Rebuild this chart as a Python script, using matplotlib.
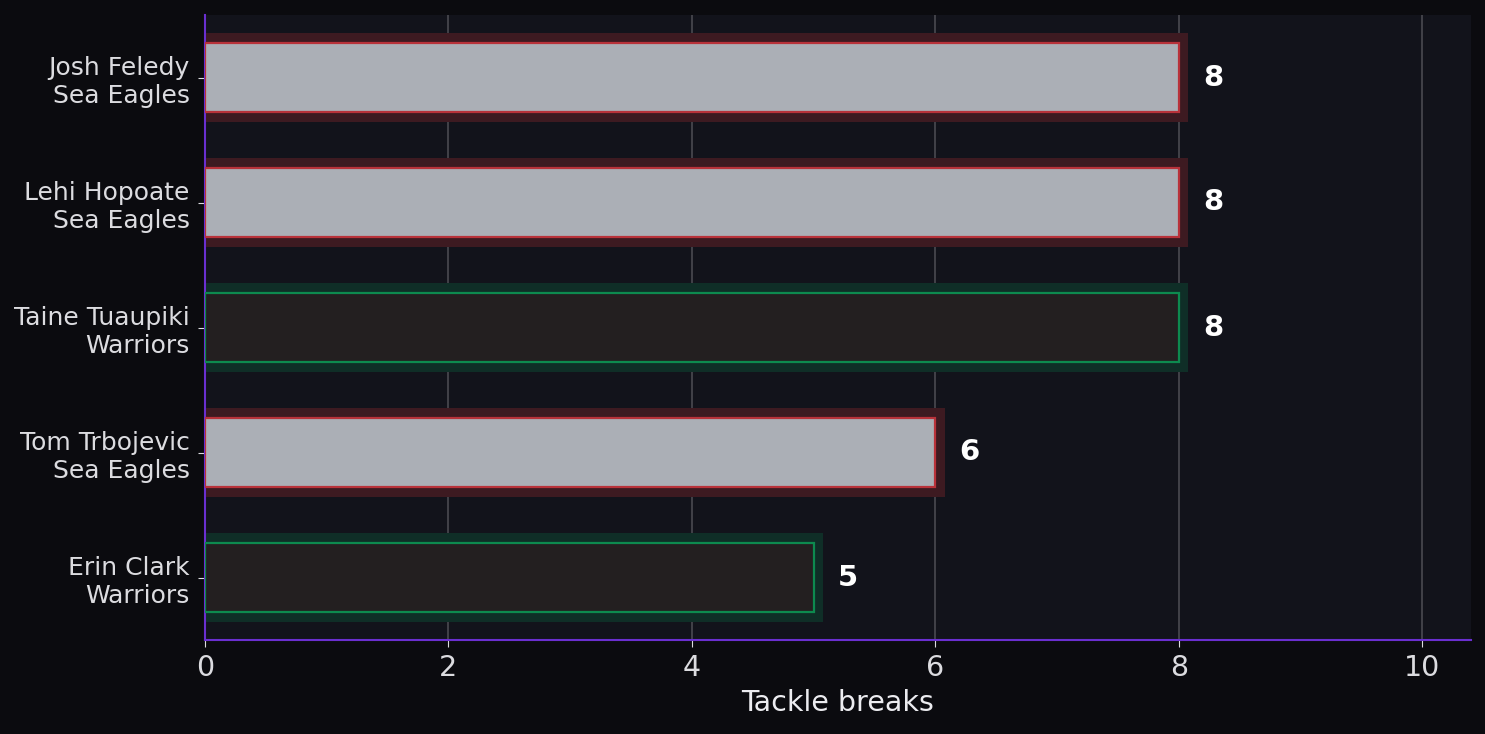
import matplotlib
matplotlib.use("Agg")
import matplotlib.pyplot as plt

players = ["Josh Feledy", "Lehi Hopoate", "Taine Tuaupiki", "Tom Trbojevic", "Erin Clark"]
teams = ["Sea Eagles", "Sea Eagles", "Warriors", "Sea Eagles", "Warriors"]
tackle_breaks = [8, 8, 8, 6, 5]

team_fill = {"Sea Eagles": "#abafb6", "Warriors": "#231f20"}
team_edge = {"Sea Eagles": "#b8323a", "Warriors": "#0d8a4f"}
team_glow = {"Sea Eagles": "#3d1a21", "Warriors": "#0f2e27"}

fig = plt.figure(figsize=(14.85, 7.34), dpi=100, facecolor="#0b0b0f")
ax = fig.add_axes([205/1485, 1-640/734, (1471-205)/1485, (640-15)/734])
ax.set_facecolor("#12131b")

ypos = list(range(len(players)))
labels = [f"{p}\n{t}" for p, t in zip(players, teams)]
for y, v, t in zip(ypos, tackle_breaks, teams):
    ax.barh(y, v + 0.15, left=-0.075, height=0.71, color=team_glow[t], zorder=2)
    ax.barh(y, v, height=0.55, color=team_fill[t], edgecolor=team_edge[t],
            linewidth=1.6, zorder=3)
    ax.text(v + 0.2, y, f"{v}", va="center", ha="left", color="white",
            fontsize=21, fontweight="bold", zorder=4)

ax.set_yticks(ypos)
ax.set_yticklabels(labels, fontsize=18, color="#dcdce0")
ax.set_ylim(len(players) - 0.5, -0.5)
ax.set_xlim(0, 10.4)
ax.set_xticks([0, 2, 4, 6, 8, 10])
ax.tick_params(axis="x", labelsize=20.5, colors="#dcdce0", length=5, pad=5)
ax.tick_params(axis="y", colors="#dcdce0", length=5, pad=6)
ax.set_xlabel("Tackle breaks", fontsize=20.5, color="#ececf0", labelpad=5)
ax.grid(axis="x", color="#4a4a50", linewidth=1.2, zorder=1)
ax.set_axisbelow(True)
for s in ["top", "right"]:
    ax.spines[s].set_visible(False)
for s in ["left", "bottom"]:
    ax.spines[s].set_color("#6a2fd0")
    ax.spines[s].set_linewidth(1.5)

fig.savefig("out.png", dpi=100, facecolor=fig.get_facecolor())
